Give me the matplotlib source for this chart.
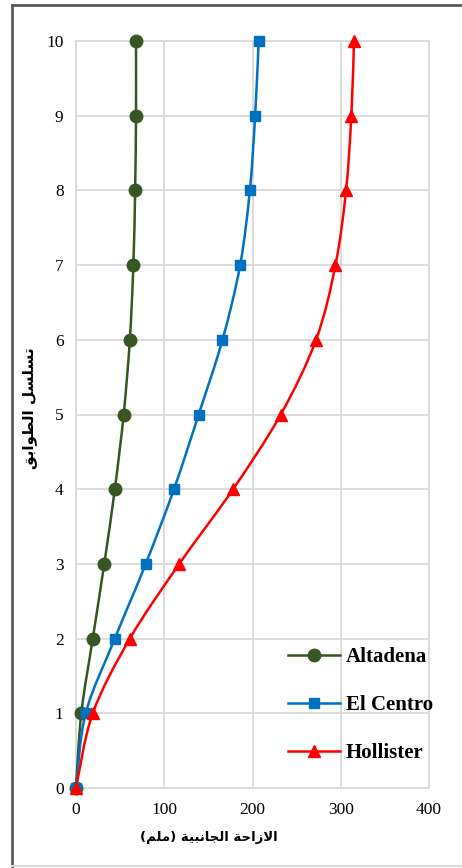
import matplotlib
matplotlib.use("Agg")
import matplotlib.pyplot as plt
import numpy as np
from matplotlib.path import Path
from matplotlib.patches import PathPatch
from matplotlib.lines import Line2D

# data
floors = [0, 1, 2, 3, 4, 5, 6, 7, 8, 9, 10]
altadena = [0, 6, 19, 32, 44, 54, 61, 65, 67, 68, 68]
el_centro = [0, 11, 44, 79, 111, 139, 166, 186, 197, 203, 207]
hollister = [0, 19, 61, 117, 178, 232, 272, 294, 306, 312, 315]
x_ticks = [0, 100, 200, 300, 400]
y_ticks = floors

# simple arabic shaping (matplotlib does not join letters or do RTL)
FORMS = {
    'ا': (0xFE8D, 0xFE8E, None, None),
    'ب': (0xFE8F, 0xFE90, 0xFE91, 0xFE92),
    'ة': (0xFE93, 0xFE94, None, None),
    'ت': (0xFE95, 0xFE96, 0xFE97, 0xFE98),
    'ج': (0xFE9D, 0xFE9E, 0xFE9F, 0xFEA0),
    'ح': (0xFEA1, 0xFEA2, 0xFEA3, 0xFEA4),
    'ز': (0xFEAF, 0xFEB0, None, None),
    'س': (0xFEB1, 0xFEB2, 0xFEB3, 0xFEB4),
    'ط': (0xFEC1, 0xFEC2, 0xFEC3, 0xFEC4),
    'ق': (0xFED5, 0xFED6, 0xFED7, 0xFED8),
    'ل': (0xFEDD, 0xFEDE, 0xFEDF, 0xFEE0),
    'م': (0xFEE1, 0xFEE2, 0xFEE3, 0xFEE4),
    'ن': (0xFEE5, 0xFEE6, 0xFEE7, 0xFEE8),
    'و': (0xFEED, 0xFEEE, None, None),
    'ي': (0xFEF1, 0xFEF2, 0xFEF3, 0xFEF4),
}
LAMALEF = (0xFEFB, 0xFEFC)


def joins_left(ch):
    return ch in FORMS and FORMS[ch][2] is not None


def shape(text):
    # merge lam+alef first
    chars = []
    i = 0
    while i < len(text):
        if text[i] == 'ل' and i + 1 < len(text) and text[i + 1] == 'ا':
            chars.append('LA')
            i += 2
        else:
            chars.append(text[i])
            i += 1
    out = []
    for k, ch in enumerate(chars):
        prev = chars[k - 1] if k > 0 else None
        nxt = chars[k + 1] if k + 1 < len(chars) else None
        prev_join = prev is not None and (prev != 'LA') and joins_left(prev)
        if ch == 'LA':
            out.append(chr(LAMALEF[1] if prev_join else LAMALEF[0]))
            continue
        if ch not in FORMS:
            out.append({'(': ')', ')': '('}.get(ch, ch))
            continue
        iso, fin, ini, med = FORMS[ch]
        next_join = nxt is not None and (nxt == 'LA' or nxt in FORMS) and ini is not None
        if prev_join and next_join:
            out.append(chr(med))
        elif prev_join:
            out.append(chr(fin))
        elif next_join:
            out.append(chr(ini))
        else:
            out.append(chr(iso))
    return ''.join(reversed(out))


def smooth_path(xs, ys):
    # excel style smoothed line, bezier through the points
    pts = np.column_stack([xs, ys]).astype(float)
    n = len(pts)
    verts = [pts[0]]
    codes = [Path.MOVETO]
    for i in range(n - 1):
        p0 = pts[i - 1] if i > 0 else pts[i]
        p1 = pts[i]
        p2 = pts[i + 1]
        p3 = pts[i + 2] if i + 2 < n else pts[i + 1]
        c1 = p1 + (p2 - p0) / 6.0
        c2 = p2 - (p3 - p1) / 6.0
        verts += [c1, c2, p2]
        codes += [Path.CURVE4] * 3
    return Path(verts, codes)


W, H = 462, 868
fig = plt.figure(figsize=(W / 100, H / 100), dpi=100)
ax = fig.add_axes([76 / W, 1 - 788 / H, (429 - 76) / W, (788 - 41) / H])

series = [
    ("Altadena", altadena, "#375623", "o", 9),
    ("El Centro", el_centro, "#0070C0", "s", 7.5),
    ("Hollister", hollister, "#FF0000", "^", 9),
]

handles = []
for name, vals, col, mk, ms in series:
    ax.add_patch(PathPatch(smooth_path(vals, floors), facecolor="none",
                           edgecolor=col, lw=1.8, zorder=3, clip_on=False))
    ax.plot(vals, floors, linestyle="none", marker=mk, ms=ms, color=col,
            zorder=4, clip_on=False)
    handles.append(Line2D([], [], color=col, lw=1.8, marker=mk, ms=ms, label=name))

ax.set_xlim(0, 400)
ax.set_ylim(0, 10)
ax.set_xticks(x_ticks)
ax.set_yticks(y_ticks)
ax.grid(True, color="#D9D9D9", lw=1.3, zorder=0)
ax.set_axisbelow(True)
for s in ax.spines.values():
    s.set_color("#D9D9D9")
    s.set_linewidth(1.3)
ax.tick_params(length=0, labelsize=12.5)
for lab in ax.get_xticklabels() + ax.get_yticklabels():
    lab.set_family("Liberation Serif")
ax.tick_params(axis="x", pad=10)
ax.tick_params(axis="y", pad=9)

leg = ax.legend(handles=handles, loc="lower right", bbox_to_anchor=(1.065, 0.008),
                frameon=False, handlelength=2.5, handletextpad=0.3,
                labelspacing=1.35,
                prop={"family": "Liberation Serif", "weight": "bold", "size": 15})

fig.text(209 / W, 1 - 838 / H, shape("الازاحة الجانبية (ملم)"), ha="center", va="center",
         fontsize=9.5, fontweight="bold", family=["DejaVu Sans"])
fig.text(30 / W, 1 - 408 / H, shape("تسلسل الطوابق"), ha="center", va="center",
         rotation=90, fontsize=11, fontweight="bold", family=["DejaVu Sans"])

# chart box border
fig.add_artist(Line2D([12 / W, 12 / W], [0, 1 - 5 / H], color="#595959", lw=2))
fig.add_artist(Line2D([12 / W, 1], [1 - 5 / H, 1 - 5 / H], color="#595959", lw=2))
fig.add_artist(Line2D([12 / W, 1], [1 - 866 / H, 1 - 866 / H], color="#D9D9D9", lw=1.5))

fig.savefig("out.png", dpi=100)
